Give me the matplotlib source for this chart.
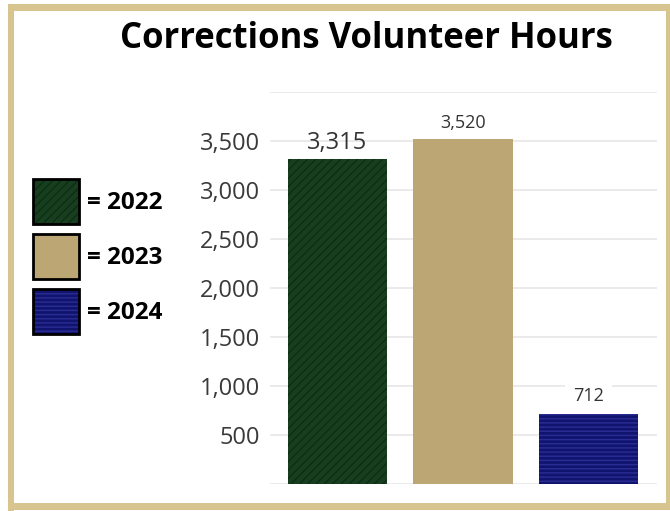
import matplotlib.pyplot as plt
from matplotlib.patches import Patch, Rectangle

# chart data
years = ['2022', '2023', '2024']
hours = [3315, 3520, 712]
value_labels = ['3,315', '3,520', '712']
label_sizes = [17, 13, 13]
yticks = [500, 1000, 1500, 2000, 2500, 3000, 3500]
ytick_labels = ['500', '1,000', '1,500', '2,000', '2,500', '3,000', '3,500']

face_colors = ['#173f1f', '#bca673', '#11146f']
hatch_colors = ['#0d2d13', '#bca673', '#2a2e93']
hatches = ['////', '', '----']

plt.rcParams['font.family'] = ['Open Sans', 'DejaVu Sans']
plt.rcParams['hatch.linewidth'] = 1.0

fig = plt.figure(figsize=(6.7, 5.11), dpi=100)
fig.patch.set_facecolor('white')

# gold frame around the graphic (left, top, bottom, right strips)
gold = '#d8c48f'
W, H = 670, 511
for (x0, y0, w, h) in [(8, 4, 6, 507), (8, 4, 662, 7), (8, 503, 662, 7), (666, 4, 4, 506)]:
    fig.patches.append(Rectangle((x0 / W, 1 - (y0 + h) / H), w / W, h / H,
                                 transform=fig.transFigure, facecolor=gold,
                                 edgecolor='none', zorder=0))

ax = fig.add_axes([270 / 670, 27 / 511, 387 / 670, 392 / 511])
x = list(range(len(years)))
for i in x:
    ax.bar(i, hours[i], width=0.79, color=face_colors[i],
           edgecolor=hatch_colors[i], hatch=hatches[i], linewidth=0, zorder=3)

# value labels above bars
offsets = [45, 70, 95]
for i in x:
    bbox = dict(facecolor='white', edgecolor='none', pad=6) if i == 2 else None
    ax.text(i, hours[i] + offsets[i], value_labels[i], ha='center', va='bottom',
            fontsize=label_sizes[i], color='#333333', zorder=4, bbox=bbox)

ax.set_xlim(-0.538, 2.546)
ax.set_ylim(0, 4000)
ax.set_yticks([0] + yticks + [4000])
ax.set_yticklabels([''] + ytick_labels + [''], fontsize=17, color='#3a3a3a')
ax.set_xticks([])
ax.tick_params(axis='y', length=0, pad=7)
ax.grid(axis='y', color='#e6e6e6', linewidth=1.2, zorder=0)
for s in ax.spines.values():
    s.set_visible(False)

fig.text(366 / 670, 1 - 48 / 511, 'Corrections Volunteer Hours', ha='center',
         va='baseline', fontsize=25, fontweight='bold', color='black')

# legend boxes with black outline
handles = []
for i in x:
    fill = Patch(facecolor=face_colors[i], edgecolor=hatch_colors[i],
                 hatch=hatches[i], linewidth=0)
    edge = Patch(facecolor='none', edgecolor='black', linewidth=2)
    handles.append((fill, edge))
fig.legend(handles, ['= ' + y for y in years], loc='upper left',
           bbox_to_anchor=(33 / 670, 1 - 179 / 511), frameon=False,
           borderpad=0, borderaxespad=0, handlelength=1.9, handleheight=2.45,
           handletextpad=0.33, labelspacing=0.43,
           prop={'family': ['Open Sans', 'DejaVu Sans'], 'weight': 'bold', 'size': 17.5})

fig.savefig('out.png', dpi=100)
